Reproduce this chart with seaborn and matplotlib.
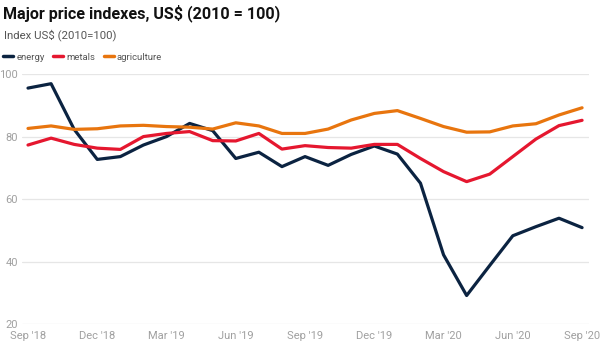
import matplotlib
matplotlib.use("Agg")
import matplotlib.pyplot as plt
import seaborn as sns
import pandas as pd
import numpy as np

months = ["Sep '18", "Oct '18", "Nov '18", "Dec '18", "Jan '19", "Feb '19", "Mar '19",
          "Apr '19", "May '19", "Jun '19", "Jul '19", "Aug '19", "Sep '19", "Oct '19",
          "Nov '19", "Dec '19", "Jan '20", "Feb '20", "Mar '20", "Apr '20", "May '20",
          "Jun '20", "Jul '20", "Aug '20", "Sep '20"]
energy = [95.5, 96.9, 82.3, 72.7, 73.6, 77.3, 80.0, 84.2, 81.9, 73.0, 75.0, 70.4, 73.6,
          70.8, 74.3, 77.0, 74.4, 65.1, 42.2, 29.2, 38.8, 48.3, 51.2, 53.9, 50.9]
metals = [77.3, 79.5, 77.5, 76.3, 75.9, 80.0, 81.0, 81.6, 78.7, 78.6, 81.0, 76.0, 77.1,
          76.5, 76.3, 77.5, 77.5, 73.0, 68.8, 65.6, 68.0, 73.6, 79.2, 83.5, 85.2]
agriculture = [82.6, 83.4, 82.3, 82.5, 83.4, 83.6, 83.2, 83.0, 82.4, 84.4, 83.4, 81.0, 81.0,
               82.4, 85.3, 87.4, 88.3, 85.8, 83.2, 81.4, 81.5, 83.4, 84.1, 86.9, 89.2]
series_names = ["energy", "metals", "agriculture"]
colors = ["#0b2341", "#e5172f", "#e8750e"]
yticks = [20, 40, 60, 80, 100]
xtick_idx = list(range(0, 25, 3))

n = len(months)
df = pd.DataFrame({
    "t": list(range(n)) * 3,
    "value": energy + metals + agriculture,
    "series": [s for s in series_names for _ in range(n)],
})

sns.set_style("white")
plt.rcParams['font.family'] = ['Roboto', 'DejaVu Sans']

fig = plt.figure(figsize=(6.0, 3.41), dpi=100)
ax = fig.add_axes([22/600, 1 - 324.3/341, (589 - 22)/600, (324.3 - 74)/341])

sns.lineplot(data=df, x="t", y="value", hue="series", hue_order=series_names,
             palette=colors, linewidth=2.3, ax=ax, legend=False)

ax.set_xlim(-0.26, 24.3)
ax.set_ylim(20, 100)
ax.set_yticks(yticks)
ax.set_yticklabels([str(v) for v in yticks])
ax.set_xticks(xtick_idx)
ax.set_xticklabels([months[i] for i in xtick_idx])
ax.grid(axis="y", color="#e6e6e6", linewidth=0.9)
ax.grid(axis="x", visible=False)
ax.set_axisbelow(True)
for s in ax.spines.values():
    s.set_visible(False)
ax.tick_params(axis="y", length=0, pad=3, labelsize=8, labelcolor="#a0a0a0")
ax.tick_params(axis="x", length=0, pad=4.8, labelsize=8, labelcolor="#a0a0a0")
for lbl in ax.get_yticklabels():
    lbl.set_horizontalalignment("right")
ax.set_xlabel("")
ax.set_ylabel("")

fig.text(3/600, 1 - 13/341, "Major price indexes, US$ (2010 = 100)", fontsize=11.6,
         fontweight="bold", color="#111111", va="center", ha="left")
fig.text(4/600, 1 - 35/341, "Index US$ (2010=100)", fontsize=8.2, color="#555555",
         va="center", ha="left")

from matplotlib.lines import Line2D
handles = [Line2D([0], [0], color=c, linewidth=2.5) for c in colors]
fig.legend(handles, series_names, loc="center left", bbox_to_anchor=(3/600, 1 - 57/341),
           ncol=3, frameon=False, fontsize=6.8, handlelength=1.1, handletextpad=0.3,
           columnspacing=0.9, labelcolor="#555555", borderaxespad=0, borderpad=0)

fig.savefig("out.png", dpi=100)
